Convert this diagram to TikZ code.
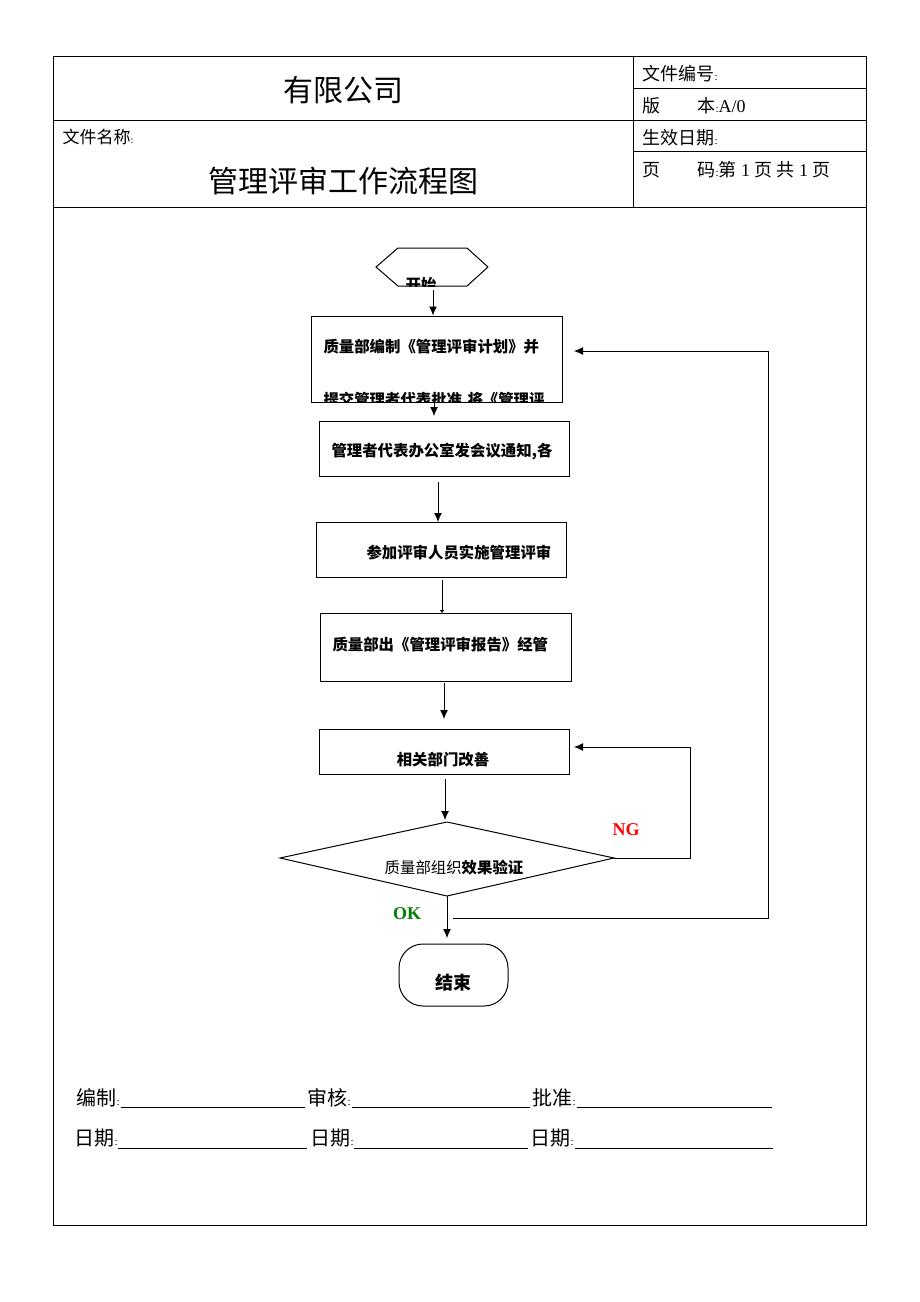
\documentclass[tikz,border=0pt]{standalone}
\usepackage{fontspec}
\setmainfont{Liberation Serif}
\newfontfamily\cjk{Noto Sans CJK SC}
\usetikzlibrary{arrows.meta}
\begin{document}
\begin{tikzpicture}[x=1pt,y=-1pt,line width=1pt,
  arr/.style={-{Latex[length=9pt,width=8pt]}},
  stepbox/.style={draw,rectangle,inner sep=0pt},
  ftxt/.style={inner sep=0pt,font=\cjk\bfseries\fontsize{15.4}{15.4}\selectfont},
  htxt/.style={inner sep=0pt,anchor=west,font=\cjk\fontsize{18}{18}\selectfont},
  sig/.style={inner sep=0pt,anchor=west,font=\cjk\fontsize{20}{20}\selectfont}]
\useasboundingbox (0,0) rectangle (920,1302);
\fill[white] (0,0) rectangle (920,1302);
% frame
\draw (53,56) rectangle (866,1225);
\draw (53,120) -- (866,120);
\draw (53,207) -- (866,207);
\draw (633,56) -- (633,207);
\draw (633,88) -- (866,88);
\draw (633,151) -- (866,151);
% header texts
\node[inner sep=0pt,font=\cjk\fontsize{30}{30}\selectfont] (company) at (343,90) {有限公司};
\node[inner sep=0pt,anchor=west,font=\cjk\fontsize{17}{17}\selectfont] (fname) at (62,137) {文件名称{\rmfamily\fontsize{10}{10}\selectfont:}};
\node[inner sep=0pt,font=\cjk\fontsize{30}{30}\selectfont] (title) at (343,181) {管理评审工作流程图};
\node[htxt] (docno) at (642,74) {文件编号{\rmfamily\fontsize{11}{11}\selectfont:}};
\node[htxt] (ver) at (642,106) {版\hspace{37pt}本{\rmfamily\fontsize{11}{11}\selectfont:}{\rmfamily\fontsize{18}{18}\selectfont A/0}};
\node[htxt] (eff) at (642,138) {生效日期{\rmfamily\fontsize{11}{11}\selectfont:}};
\node[htxt] (page) at (642,170) {页\hspace{37pt}码{\rmfamily\fontsize{11}{11}\selectfont:}第{\rmfamily\fontsize{18}{18}\selectfont\ 1 }页\ 共{\rmfamily\fontsize{18}{18}\selectfont\ 1 }页};
% start hexagon
\draw (376,267) -- (398,248) -- (467,248) -- (488,267) -- (467,286) -- (398,286) -- cycle;
\begin{scope}
\clip (376,267) -- (398,248) -- (467,248) -- (488,267) -- (467,286) -- (398,286) -- cycle;
\node[ftxt] (starttxt) at (421,285) {开始};
\end{scope}
\coordinate (hexs) at (433,290);
% boxes
\node[stepbox,minimum width=251pt,minimum height=86pt] (b1) at (436.5,359) {};
\begin{scope}
\clip (311,316) rectangle (562,402);
\node[ftxt,anchor=west] (b1t1) at (323,347) {质量部编制《管理评审计划》并};
\node[ftxt,anchor=west] (b1t2) at (323,401) {提交管理者代表批准,将《管理评};
\end{scope}
\node[stepbox,minimum width=250pt,minimum height=55pt] (b2) at (444,448.5) {};
\node[ftxt,anchor=west] (b2t) at (331,452) {管理者代表办公室发会议通知,各};
\node[stepbox,minimum width=250pt,minimum height=55pt] (b3) at (441,549.5) {};
\node[ftxt,anchor=west] (b3t) at (366,553) {参加评审人员实施管理评审};
\node[stepbox,minimum width=251pt,minimum height=68pt] (b4) at (445.5,647) {};
\node[ftxt,anchor=west] (b4t) at (332,645) {质量部出《管理评审报告》经管};
\node[stepbox,minimum width=250pt,minimum height=45pt] (b5) at (444,751.5) {};
\node[ftxt] (b5t) at (443,760) {相关部门改善};
% diamond
\coordinate (dl) at (280,858);
\coordinate (dt) at (447,822);
\coordinate (dr) at (614,858);
\coordinate (db) at (447,896);
\draw (dl) -- (dt) -- (dr) -- (db) -- cycle;
\node[inner sep=0pt,font=\cjk\fontsize{15.4}{15.4}\selectfont] (dtxt) at (454,868) {质量部组织{\bfseries 效果验证}};
% end
\node[draw,rounded corners=24pt,minimum width=109pt,minimum height=62pt,inner sep=0pt] (endn) at (453.5,975) {};
\node[inner sep=0pt,font=\cjk\bfseries\fontsize{18}{18}\selectfont] (endt) at (453,983) {结束};
% labels
\node[inner sep=0pt,text=red,font=\bfseries\fontsize{18}{18}\selectfont] (ng) at (626,830) {NG};
\node[inner sep=0pt,text={rgb,255:red,0;green,128;blue,0},font=\bfseries\fontsize{18}{18}\selectfont] (ok) at (407,914) {OK};
% arrows
\draw[arr] (hexs) -- (hexs |- b1.north);
\draw[arr] (434,392) -- (434,416);
\draw[arr] (438,482) -- (438,522);
\draw[-{Latex[length=3pt,width=5pt]}] (442,580) -- (442,613);
\draw[arr] (444,683) -- (444,719);
\draw[arr] (445,779) -- (445,820);
\draw[arr] (db) -- (447,938);
\coordinate (ngc) at (690,858);
\draw[arr] (dr) -- (ngc) -- (690,747) -- (574,747);
\coordinate (okc) at (453,918);
\draw[arr] (okc) -- (768,918) -- (768,351) -- (574,351);
% signatures
\node[sig] (s1) at (76,1098) {编制{\rmfamily\fontsize{11}{11}\selectfont:}};
\draw (121,1107) -- (305,1107);
\node[sig] (s2) at (307,1098) {审核{\rmfamily\fontsize{11}{11}\selectfont:}};
\draw (352,1107) -- (530,1107);
\node[sig] (s3) at (532,1098) {批准{\rmfamily\fontsize{11}{11}\selectfont:}};
\draw (577,1107) -- (772,1107);
\node[sig] (d1) at (74,1138) {日期{\rmfamily\fontsize{11}{11}\selectfont:}};
\draw (118,1148) -- (307,1148);
\node[sig] (d2) at (310,1138) {日期{\rmfamily\fontsize{11}{11}\selectfont:}};
\draw (354,1148) -- (528,1148);
\node[sig] (d3) at (530,1138) {日期{\rmfamily\fontsize{11}{11}\selectfont:}};
\draw (575,1148) -- (773,1148);
\end{tikzpicture}
\end{document}
